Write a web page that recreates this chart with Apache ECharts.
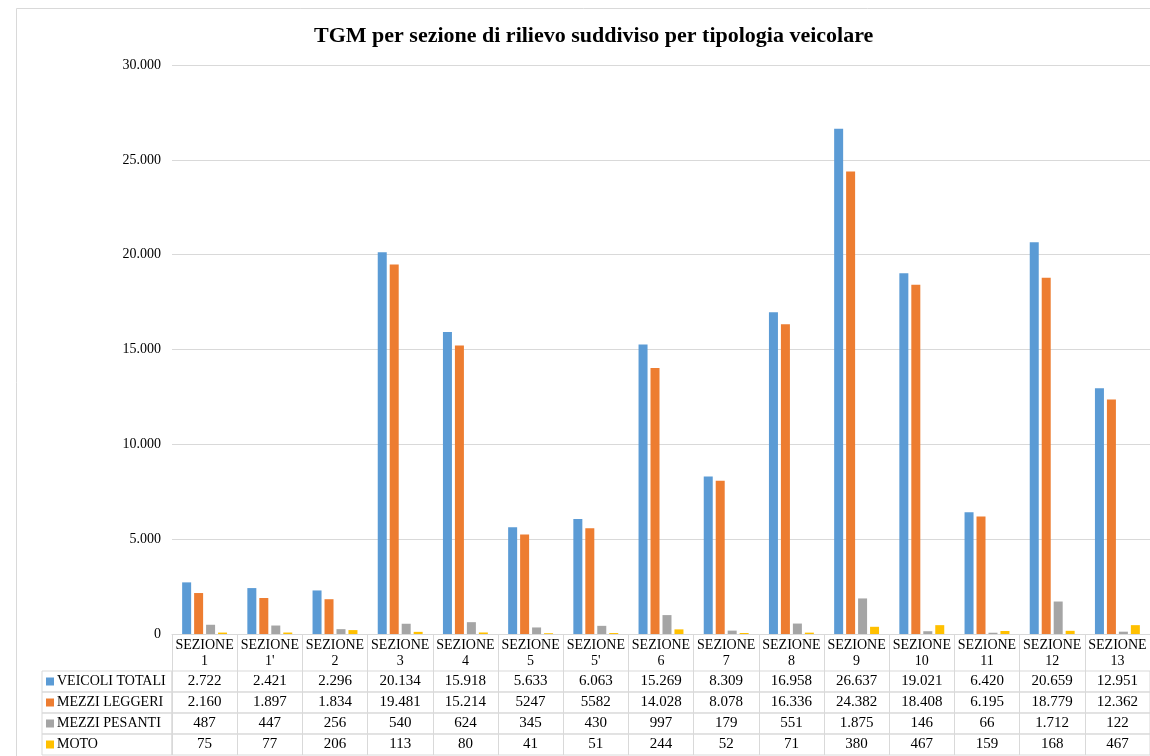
<!DOCTYPE html>
<html>
<head>
<meta charset="utf-8">
<script src="https://cdn.jsdelivr.net/npm/echarts@6/dist/echarts.min.js"></script>
<style>
  html, body { margin: 0; padding: 0; background: #fff; }
  #chart { width: 1150px; height: 756px; }
</style>
</head>
<body>
<div id="chart"></div>
<script>
// Survey sections (x categories)
const sections = ['SEZIONE\n1', "SEZIONE\n1'", 'SEZIONE\n2', 'SEZIONE\n3', 'SEZIONE\n4', 'SEZIONE\n5', "SEZIONE\n5'",
  'SEZIONE\n6', 'SEZIONE\n7', 'SEZIONE\n8', 'SEZIONE\n9', 'SEZIONE\n10', 'SEZIONE\n11', 'SEZIONE\n12', 'SEZIONE\n13'];

// Daily average traffic by vehicle type
const veicoliTotali = [2722, 2421, 2296, 20134, 15918, 5633, 6063, 15269, 8309, 16958, 26637, 19021, 6420, 20659, 12951];
const mezziLeggeri  = [2160, 1897, 1834, 19481, 15214, 5247, 5582, 14028, 8078, 16336, 24382, 18408, 6195, 18779, 12362];
const mezziPesanti  = [487, 447, 256, 540, 624, 345, 430, 997, 179, 551, 1875, 146, 66, 1712, 122];
const moto          = [75, 77, 206, 113, 80, 41, 51, 244, 52, 71, 380, 467, 159, 168, 467];

const seriesNames = ['VEICOLI TOTALI', 'MEZZI LEGGERI', 'MEZZI PESANTI', 'MOTO'];
const seriesData = [veicoliTotali, mezziLeggeri, mezziPesanti, moto];
const colors = ['#5B9BD5', '#ED7D31', '#A5A5A5', '#FFC000'];

// Cells printed in the table without a thousands separator (row index -> column indices)
const plainCells = { 1: [5, 6] };

// y axis ticks
const yMax = 30000;
const yStep = 5000;

const SERIF = '"Liberation Serif", "Times New Roman", serif';
const BORDER = '#d9d9d9';

function groupIt(v) {
  return String(v).replace(/\B(?=(\d{3})+(?!\d))/g, '.');
}
function cellText(row, col) {
  const v = seriesData[row][col];
  return (plainCells[row] || []).includes(col) ? String(v) : groupIt(v);
}

// Layout of the plot and data table
const plotLeft = 172, plotTop = 65, plotWidth = 980, plotHeight = 569;
const headerH = 37, rowH = 21, labelLeft = 42;
const tableTop = plotTop + plotHeight + headerH;

const grids = [{ left: plotLeft, top: plotTop, width: plotWidth, height: plotHeight }];
const xAxes = [{
  type: 'category', gridIndex: 0, data: sections,
  axisLine: { show: true, lineStyle: { color: BORDER, width: 1 } },
  axisTick: { show: true, interval: 0, length: headerH, lineStyle: { color: BORDER } },
  axisLabel: { interval: 0, fontFamily: SERIF, fontSize: 14, lineHeight: 16, color: '#000', margin: 3 }
}];
const yAxes = [{
  type: 'value', gridIndex: 0, min: 0, max: yMax, interval: yStep,
  axisLine: { show: false }, axisTick: { show: false },
  splitLine: { lineStyle: { color: BORDER, width: 1 } },
  axisLabel: { fontFamily: SERIF, fontSize: 14, color: '#000', margin: 11, formatter: v => groupIt(v) }
}];

seriesNames.forEach((name, r) => {
  const top = tableTop + r * rowH;
  // value cells
  grids.push({ left: plotLeft, top, width: plotWidth, height: rowH, show: true, borderColor: BORDER, borderWidth: 1 });
  let gi = grids.length - 1;
  xAxes.push({
    type: 'category', gridIndex: gi, data: sections.map((_, c) => cellText(r, c)),
    axisLine: { show: false }, axisTick: { show: false },
    splitLine: { show: true, interval: 0, lineStyle: { color: BORDER, width: 1 } },
    axisLabel: { interval: 0, fontFamily: SERIF, fontSize: 15, color: '#000', margin: -rowH / 2, verticalAlign: 'middle' }
  });
  yAxes.push({ type: 'value', gridIndex: gi, show: false });

  // series name cell with colour key
  grids.push({ left: labelLeft, top, width: plotLeft - labelLeft, height: rowH, show: true, borderColor: BORDER, borderWidth: 1 });
  gi = grids.length - 1;
  xAxes.push({ type: 'value', gridIndex: gi, show: false });
  yAxes.push({
    type: 'category', gridIndex: gi, data: [name],
    axisLine: { show: false }, axisTick: { show: false },
    axisLabel: {
      inside: true, margin: 4, align: 'left', verticalAlign: 'middle',
      formatter: v => '{k|}{t|' + v + '}',
      rich: {
        k: { backgroundColor: colors[r], width: 8, height: 8, padding: 0 },
        t: { fontFamily: SERIF, fontSize: 14, color: '#000', padding: [0, 0, 0, 3] }
      }
    }
  });
});

const series = seriesNames.map((name, i) => ({
  name, type: 'bar', xAxisIndex: 0, yAxisIndex: 0,
  data: seriesData[i], barWidth: 9, barGap: '33%',
  itemStyle: { color: colors[i] }
}));

const chart = echarts.init(document.getElementById('chart'), null, { renderer: 'canvas' });
chart.setOption({
  animation: false,
  backgroundColor: '#fff',
  color: colors,
  title: {
    text: 'TGM per sezione di rilievo suddiviso per tipologia veicolare',
    left: 309, top: 20,
    textStyle: { fontFamily: SERIF, fontWeight: 'bold', fontSize: 22, color: '#000' }
  },
  graphic: [{
    type: 'rect', shape: { x: 16.5, y: 8.5, width: 1200, height: 800 },
    style: { fill: null, stroke: BORDER, lineWidth: 1 }, silent: true, z: -1
  }],
  grid: grids,
  xAxis: xAxes,
  yAxis: yAxes,
  series
});
</script>
</body>
</html>
